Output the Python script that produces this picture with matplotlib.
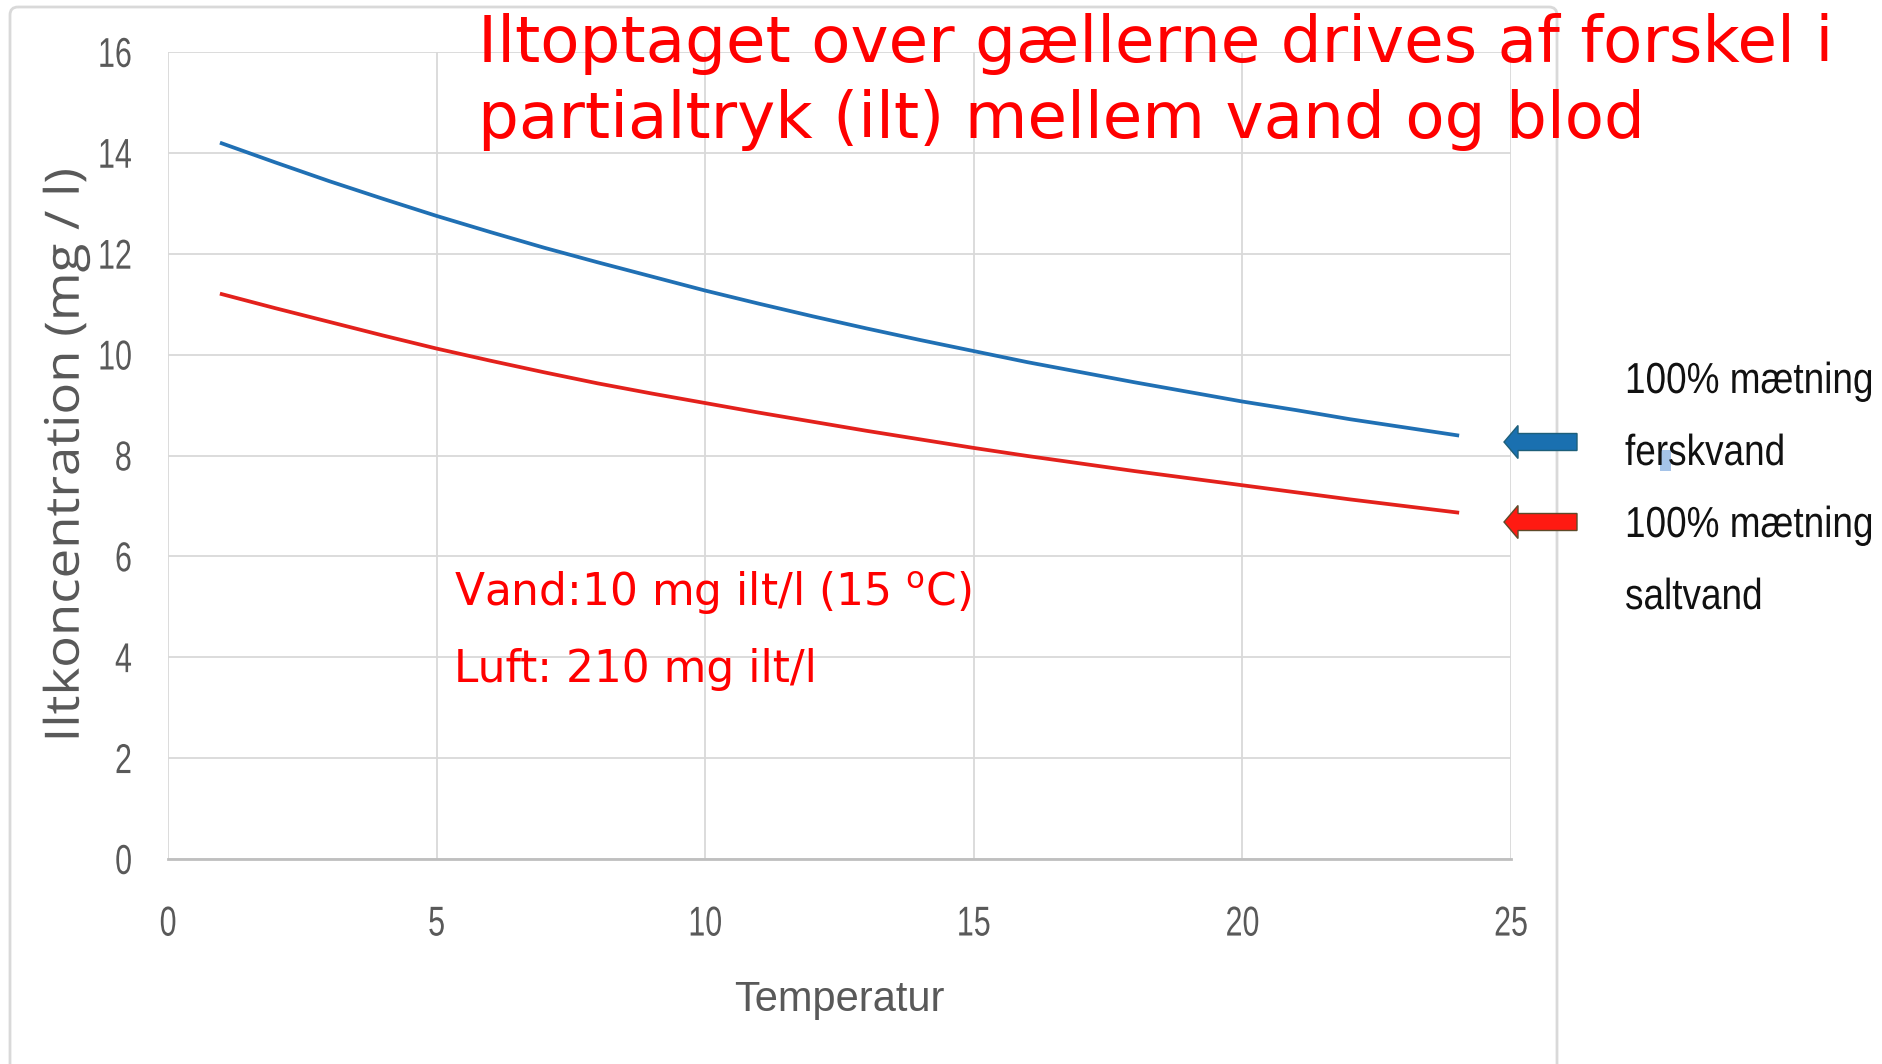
import matplotlib
matplotlib.use('Agg')
import matplotlib.pyplot as plt
from matplotlib.patches import FancyArrow, FancyBboxPatch, Rectangle
from matplotlib.patheffects import AbstractPathEffect
from matplotlib.transforms import Affine2D

# data
temp = list(range(1, 25))
ferskvand = [14.19, 13.81, 13.44, 13.09, 12.75, 12.43, 12.12, 11.83, 11.55, 11.27,
             11.01, 10.76, 10.52, 10.29, 10.07, 9.85, 9.65, 9.45, 9.26, 9.07,
             8.90, 8.72, 8.56, 8.40]
saltvand = [11.20, 10.92, 10.65, 10.38, 10.12, 9.88, 9.65, 9.43, 9.23, 9.04,
            8.85, 8.67, 8.49, 8.32, 8.15, 7.99, 7.84, 7.69, 7.55, 7.41,
            7.27, 7.13, 7.00, 6.87]
x_ticks = [0, 5, 10, 15, 20, 25]
y_ticks = [0, 2, 4, 6, 8, 10, 12, 14, 16]

title_lines = ['Iltoptaget over gællerne drives af forskel i',
               'partialtryk (ilt) mellem vand og blod']
note_lines = [r'Vand:10 mg ilt/l (15 $^{\mathrm{o}}$C)', 'Luft: 210 mg ilt/l']
legend_lines = ['100% mætning', 'ferskvand', '100% mætning', 'saltvand']


class Stretch(AbstractPathEffect):
    """scale glyphs vertically (the screenshot text is tall and narrow)"""
    def __init__(self, sy, ay=None):
        super().__init__()
        self.sy = sy
        self.ay = ay   # None -> about the baseline, else fraction of ink height

    def draw_path(self, renderer, gc, tpath, affine, rgbFace=None):
        cy = 0
        if self.ay is not None:
            ext = tpath.get_extents()
            cy = ext.y0 + self.ay * (ext.y1 - ext.y0)
        aff = Affine2D().translate(0, -cy).scale(1, self.sy).translate(0, cy) + affine
        renderer.draw_path(gc, tpath, aff, rgbFace)


W, H = 1883, 1064
sans = ['Liberation Sans', 'DejaVu Sans']
plt.rcParams['mathtext.fontset'] = 'dejavusans'

fig = plt.figure(figsize=(W / 100, H / 100), dpi=100)
fig.patch.set_facecolor('white')

ax = fig.add_axes([168 / W, 1 - 859 / H, 1343 / W, 807 / H])
ax.plot(temp, ferskvand, color='#2070b4', lw=2.7)
ax.plot(temp, saltvand, color='#e3211c', lw=2.7)
ax.set_xlim(0, 25)
ax.set_ylim(0, 16)
ax.set_xticks(x_ticks)
ax.set_yticks(y_ticks)
ax.grid(True, color='#d9d9d9', lw=1.3)
ax.set_axisbelow(True)
for s in ['top', 'right', 'left']:
    ax.spines[s].set_visible(False)
ax.spines['bottom'].set_color('#bfbfbf')
ax.spines['bottom'].set_linewidth(2)
ax.tick_params(length=0, labelsize=21.9, labelcolor='#595959')
ax.tick_params(axis='x', pad=36.5)
ax.tick_params(axis='y', pad=26)
for lbl in ax.get_xticklabels() + ax.get_yticklabels():
    lbl.set_fontfamily(sans)
    lbl.set_path_effects([Stretch(1.37, 0.5)])

ax.set_ylabel('Iltkoncentration (mg / l)', fontsize=38, color='#595959',
              family=['Open Sans', 'DejaVu Sans'])
ax.yaxis.set_label_coords((65 - 168) / 1343, 0.5)
ax.yaxis.label.set_va('center')
ax.yaxis.label.set_path_effects([Stretch(0.9)])
ax.set_xlabel('Temperatur', fontsize=30, color='#595959', family=sans)
ax.xaxis.set_label_coords(0.5, (859 - 1011) / 807)
ax.xaxis.label.set_va('baseline')

# overlay in pixel coordinates for frame, arrows and slide texts
ov = fig.add_axes([0, 0, 1, 1], facecolor='none')
ov.set_xlim(0, W)
ov.set_ylim(H, 0)
ov.axis('off')

ov.add_patch(FancyBboxPatch((10, 7), 1547, 1080, boxstyle='round,pad=0,rounding_size=8',
                            fill=False, ec='#d9d9d9', lw=2))

ov.add_patch(FancyArrow(1577, 442, -73, 0, width=17, head_width=33, head_length=14,
                        length_includes_head=True, fc='#1a70b0', ec='#1d5f7a', lw=1))
ov.add_patch(FancyArrow(1577, 522, -73, 0, width=17, head_width=33, head_length=14,
                        length_includes_head=True, fc='#ff1a12', ec='#5e4a2a', lw=1))

for txt, yb in zip(title_lines, [62, 138]):
    ov.text(478, yb, txt, color='#ff0000', fontsize=46.4, va='baseline', ha='left',
            family='DejaVu Sans')
for txt, yb in zip(note_lines, [606, 682]):
    ov.text(454, yb, txt, color='#ff0000', fontsize=31.6, va='baseline', ha='left',
            family='DejaVu Sans')
for txt, yb in zip(legend_lines, [393, 465, 537, 609]):
    t = ov.text(1625, yb, txt, color='#111111', fontsize=26.6, va='baseline', ha='left',
                family=sans)
    t.set_path_effects([Stretch(1.175)])

ov.add_patch(Rectangle((1660, 450), 11, 21, fc='#8fb4e3', ec='none', alpha=0.8))

fig.savefig('out.png', dpi=100)
